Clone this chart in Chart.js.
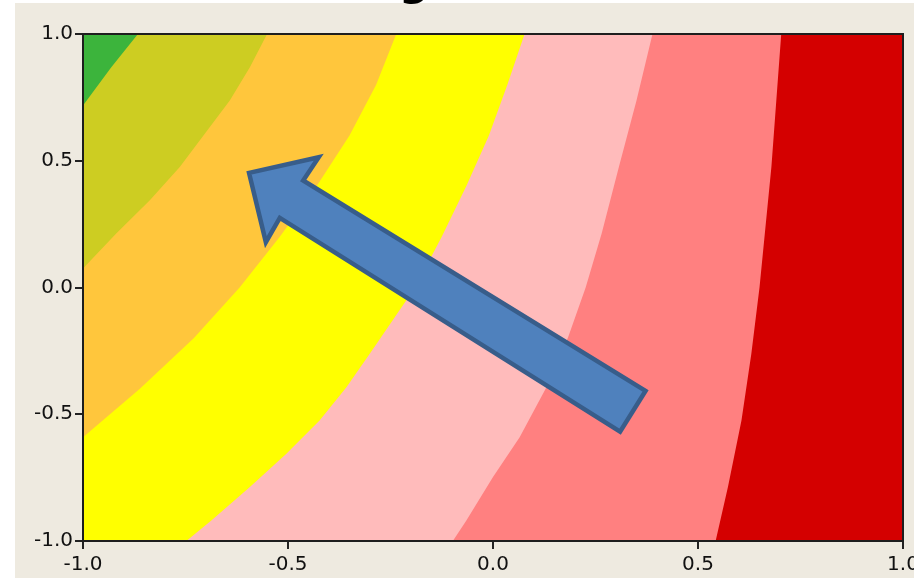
<!DOCTYPE html>
<html>
<head>
<meta charset="utf-8">
<script src="https://cdn.jsdelivr.net/npm/chart.js@4.4.0/dist/chart.umd.min.js"></script>
<style>
  html, body { margin: 0; padding: 0; background: #fff; }
  #wrap { position: relative; width: 914px; height: 580px; }
</style>
</head>
<body>
<div id="wrap"><canvas id="chart" width="914" height="580"></canvas></div>
<script>
// Tick values
const xTicks = [-1.0, -0.5, 0.0, 0.5, 1.0];
const yTicks = [-1.0, -0.5, 0.0, 0.5, 1.0];

// Contour boundaries, traced from the top down, as [x, y]
const edgeGreen = [[-0.866, 1], [-0.931, 0.869], [-1, 0.718]];
const edgeOlive = [[-0.551, 1], [-0.593, 0.869], [-0.642, 0.738], [-0.764, 0.475],
  [-0.837, 0.344], [-0.919, 0.213], [-1, 0.075]];
const edgeOrange = [[-0.236, 1], [-0.285, 0.8], [-0.35, 0.6], [-0.43, 0.4], [-0.52, 0.2],
  [-0.618, 0], [-0.73, -0.2], [-0.862, -0.4], [-1, -0.591]];
const edgeYellow = [[0.077, 1], [0.035, 0.8], [-0.01, 0.6], [-0.065, 0.4], [-0.125, 0.2],
  [-0.19, 0], [-0.301, -0.262], [-0.358, -0.394], [-0.423, -0.525], [-0.504, -0.656],
  [-0.593, -0.787], [-0.687, -0.919], [-0.748, -1]];
const edgePink = [[0.389, 1], [0.35, 0.738], [0.307, 0.475], [0.265, 0.213], [0.226, 0],
  [0.183, -0.197], [0.13, -0.394], [0.065, -0.591], [0, -0.748], [-0.065, -0.919], [-0.098, -1]];
const edgeSalmon = [[0.703, 1], [0.691, 0.738], [0.679, 0.475], [0.663, 0.213], [0.65, 0],
  [0.63, -0.262], [0.606, -0.525], [0.573, -0.787], [0.543, -1]];
const plotSquare = [[-1, 1], [1, 1], [1, -1], [-1, -1]];

// Band colours, from the top-left band to the right-hand one
const bandColors = ['#3cb43c', '#cdcd22', '#ffc63c', '#ffff00', '#ffbbbb', '#ff8080', '#d40000'];

// Arrow overlay, in data units (tail -> head -> tail)
const arrowPts = [[0.372, -0.408], [-0.463, 0.422], [-0.425, 0.514], [-0.595, 0.452],
  [-0.554, 0.179], [-0.52, 0.275], [0.31, -0.569]];

// region left of a boundary, closed along the left edge
function leftRegion(edge) {
  const pts = edge.map(p => ({ x: p[0], y: p[1] }));
  const last = edge[edge.length - 1];
  pts.push({ x: -1, y: last[1] });
  pts.push({ x: -1, y: 1 });
  return pts;
}

const regions = [
  leftRegion(edgeGreen),
  leftRegion(edgeOlive),
  leftRegion(edgeOrange),
  leftRegion(edgeYellow),
  leftRegion(edgePink),
  leftRegion(edgeSalmon),
  plotSquare.map(p => ({ x: p[0], y: p[1] }))
];

const datasets = regions.map((pts, i) => ({
  data: pts,
  showLine: true,
  fill: 'shape',
  backgroundColor: bandColors[i],
  borderColor: 'rgba(0,0,0,0)',
  borderWidth: 0,
  pointRadius: 0,
  tension: 0
}));

const backdrop = {
  id: 'backdrop',
  beforeDraw(chart) {
    const c = chart.ctx;
    c.save();
    c.fillStyle = '#ffffff';
    c.fillRect(0, 0, chart.width, chart.height);
    c.fillStyle = '#eeeae0';
    c.fillRect(15, 3, chart.width - 15, 575);
    c.restore();
  }
};

const overlay = {
  id: 'overlay',
  afterDatasetsDraw(chart) {
    const c = chart.ctx;
    const { left, top, right, bottom } = chart.chartArea;
    const xs = chart.scales.x, ys = chart.scales.y;
    c.save();
    // frame
    c.strokeStyle = '#1e1e1e';
    c.lineWidth = 2;
    c.strokeRect(left, top, right - left, bottom - top);
    // arrow
    c.beginPath();
    arrowPts.forEach((p, i) => {
      const px = xs.getPixelForValue(p[0]);
      const py = ys.getPixelForValue(p[1]);
      if (i === 0) c.moveTo(px, py); else c.lineTo(px, py);
    });
    c.closePath();
    c.fillStyle = '#4f81bd';
    c.fill();
    c.lineJoin = 'miter';
    c.strokeStyle = '#385d8a';
    c.lineWidth = 4.5;
    c.stroke();
    c.restore();
  },
  afterDraw(chart) {
    // bottom of the cut-off title
    const c = chart.ctx;
    c.save();
    c.fillStyle = '#000';
    c.font = 'bold 42px "DejaVu Sans"';
    c.textAlign = 'center';
    c.textBaseline = 'alphabetic';
    c.fillText('g', 414, -5);
    c.restore();
  }
};

const tickFont = { family: 'DejaVu Sans', size: 20 };

new Chart(document.getElementById('chart'), {
  type: 'scatter',
  data: { datasets: datasets },
  options: {
    responsive: false,
    animation: false,
    events: [],
    layout: { padding: { left: 15, top: 34, right: 11, bottom: 2 } },
    plugins: { legend: { display: false }, tooltip: { enabled: false } },
    scales: {
      x: {
        type: 'linear', min: -1, max: 1,
        afterBuildTicks: s => { s.ticks = xTicks.map(v => ({ value: v })); },
        afterFit: s => { s.height = 37; s.paddingLeft = 0; s.paddingRight = 0; },
        grid: { drawOnChartArea: false, tickLength: 8, color: '#222', lineWidth: 2 },
        border: { display: false },
        ticks: { color: '#111', font: tickFont, padding: 4, maxRotation: 0, autoSkip: false,
          callback: v => Number(v).toFixed(1) }
      },
      y: {
        type: 'linear', min: -1, max: 1,
        afterBuildTicks: s => { s.ticks = yTicks.map(v => ({ value: v })); },
        afterFit: s => { s.width = 68; s.paddingTop = 0; s.paddingBottom = 0; },
        grid: { drawOnChartArea: false, tickLength: 8, color: '#222', lineWidth: 2 },
        border: { display: false },
        ticks: { color: '#111', font: tickFont, padding: 2, autoSkip: false,
          callback: v => Number(v).toFixed(1) }
      }
    }
  },
  plugins: [backdrop, overlay]
});
</script>
</body>
</html>
